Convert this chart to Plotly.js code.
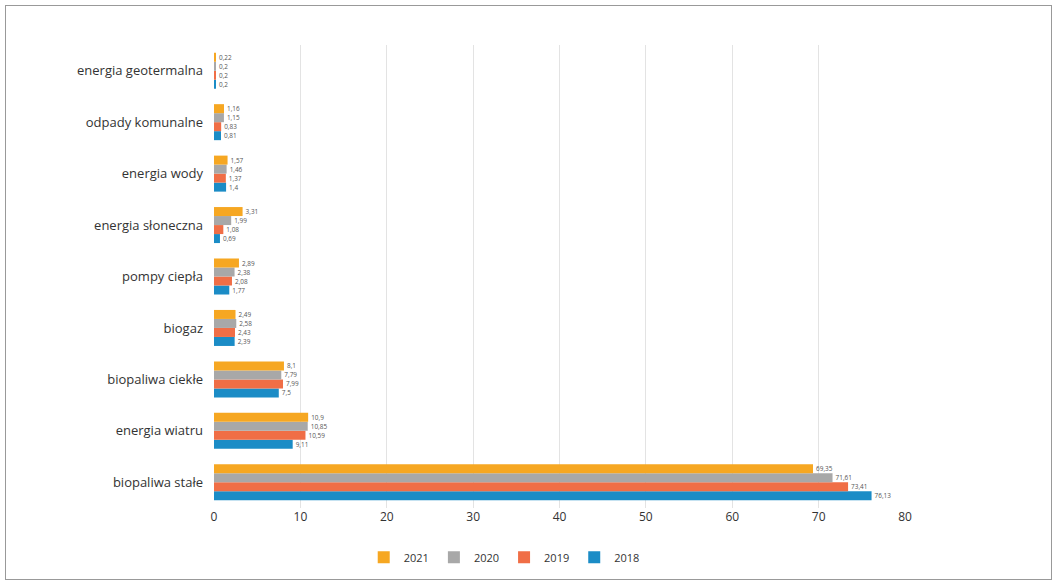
<!DOCTYPE html>
<html><head><meta charset="utf-8">
<script src="https://cdn.plot.ly/plotly-3.0.1.min.js"></script>
<style>body{margin:0}#frame{position:absolute;left:5px;top:5px;width:1045px;height:573px;border:1px solid #999;pointer-events:none}</style>
</head><body>
<div id="chart" style="width:1058px;height:586px"></div><div id="frame"></div>
<script>
const categories = ["biopaliwa stałe","energia wiatru","biopaliwa ciekłe","biogaz","pompy ciepła","energia słoneczna","energia wody","odpady komunalne","energia geotermalna"];
const v2018 = [76.13, 9.11, 7.5, 2.39, 1.77, 0.69, 1.4, 0.81, 0.2];
const v2019 = [73.41, 10.59, 7.99, 2.43, 2.08, 1.08, 1.37, 0.83, 0.2];
const v2020 = [71.61, 10.85, 7.79, 2.58, 2.38, 1.99, 1.46, 1.15, 0.2];
const v2021 = [69.35, 10.9, 8.1, 2.49, 2.89, 3.31, 1.57, 1.16, 0.22];
const series = [["2018", v2018, "#1b8cc6"], ["2019", v2019, "#f06e46"], ["2020", v2020, "#a8a8a8"], ["2021", v2021, "#f6a722"]];
const data = series.map(([n, v, c]) => ({
  type: "bar", orientation: "h", name: n, x: v, y: categories,
  marker: {color: c}, text: v.map(x => String(x).replace(".", ",")),
  textposition: "outside", cliponaxis: false,
  textfont: {size: 10, color: "#555", family: "Open Sans"}
}));
Plotly.newPlot("chart", data, {
  width: 1058, height: 586,
  margin: {l: 214, r: 153, t: 45, b: 78},
  barmode: "group", bargap: 0.3, bargroupgap: 0,
  font: {family: "Open Sans", color: "#333"},
  xaxis: {range: [0, 80], dtick: 10, showgrid: true, gridcolor: "#e3e3e3", zeroline: false, tickfont: {size: 12}, ticks: "", showline: false},
  yaxis: {tickfont: {size: 13}, ticks: "", ticklabelstandoff: 10, showline: false},
  showlegend: true,
  legend: {orientation: "h", traceorder: "reversed", x: 0.42, xanchor: "center", y: -0.075, yanchor: "top", font: {size: 11}, itemwidth: 30},
  paper_bgcolor: "#fff", plot_bgcolor: "#fff"
}, {displayModeBar: false});
</script></body></html>
